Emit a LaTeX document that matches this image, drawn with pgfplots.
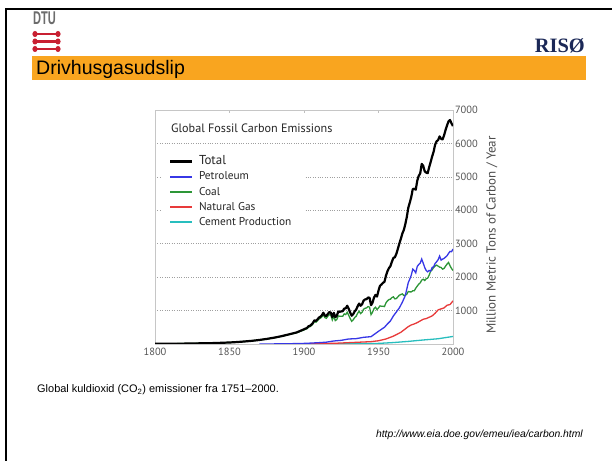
\documentclass[border=0pt]{standalone}
\usepackage{fontspec}
\setmainfont{Liberation Sans}
\newfontfamily\chartfont{PT Sans}
\newfontfamily\rsfont{Liberation Serif}
\usepackage{pgfplots}
\pgfplotsset{compat=1.18}
\definecolor{orangebar}{RGB}{249,165,31}
\definecolor{dtured}{RGB}{200,32,50}
\definecolor{risonavy}{RGB}{27,40,87}
\definecolor{cblue}{RGB}{55,55,230}
\definecolor{cgreen}{RGB}{45,150,55}
\definecolor{gasred}{RGB}{232,58,58}
\definecolor{ccyan}{RGB}{40,190,190}
\definecolor{tickgray}{RGB}{85,85,85}

\pgfplotstableread{
year val
1800 8
1810 9
1820 12
1830 20
1840 28
1850 45
1855 58
1860 75
1865 95
1870 120
1875 152
1880 190
1885 235
1890 290
1895 345
1900 440
1901 460
1902 480
1903 530
1904 545
1905 580
1906 630
1907 710
1908 690
1909 735
1910 790
1911 815
1912 860
1913 935
1914 850
1915 838
1916 901
1917 955
1918 936
1919 806
1920 932
1921 803
1922 845
1923 970
1924 963
1925 975
1926 983
1927 1062
1928 1065
1929 1145
1930 1053
1931 940
1932 847
1933 893
1934 973
1935 1027
1936 1130
1937 1209
1938 1142
1939 1192
1940 1299
1941 1334
1942 1342
1943 1391
1944 1383
1945 1160
1946 1238
1947 1392
1948 1469
1949 1419
1950 1600
1951 1740
1952 1780
1953 1830
1954 1860
1955 2043
1956 2177
1957 2270
1958 2330
1959 2462
1960 2577
1961 2594
1962 2700
1963 2848
1964 3008
1965 3145
1966 3305
1967 3411
1968 3588
1969 3800
1970 4076
1971 4231
1972 4399
1973 4635
1974 4644
1975 4615
1976 4883
1977 5029
1978 5105
1979 5387
1980 5332
1981 5168
1982 5127
1983 5110
1984 5290
1985 5444
1986 5610
1987 5753
1988 5964
1989 6065
1990 6100
1991 6210
1992 6140
1993 6120
1994 6240
1995 6400
1996 6540
1997 6660
1998 6700
1999 6600
2000 6520
}\totaldata

\pgfplotstableread{
year val
1870 0
1880 3
1890 8
1900 18
1905 28
1910 40
1915 55
1920 90
1925 110
1930 150
1935 160
1940 200
1945 220
1950 380
1952 440
1954 500
1956 600
1958 690
1960 840
1962 960
1964 1080
1966 1250
1968 1450
1970 1840
1971 1940
1972 2060
1973 2240
1974 2200
1975 2130
1976 2320
1977 2380
1978 2420
1979 2540
1980 2420
1981 2290
1982 2200
1983 2160
1984 2200
1985 2180
1986 2290
1987 2310
1988 2410
1989 2460
1990 2520
1991 2630
1992 2510
1993 2540
1994 2560
1995 2600
1996 2640
1997 2710
1998 2770
1999 2760
2000 2840
}\petroldata

\pgfplotstableread{
year val
1800 8
1810 9
1820 12
1830 20
1840 28
1850 45
1855 58
1860 75
1865 95
1870 120
1875 150
1880 187
1885 230
1890 282
1895 335
1900 420
1901 440
1902 458
1903 505
1904 518
1905 550
1906 598
1907 675
1908 652
1909 695
1910 745
1911 770
1912 812
1913 875
1914 790
1915 770
1916 830
1917 880
1918 860
1919 720
1920 830
1921 700
1922 730
1923 840
1924 830
1925 830
1926 830
1927 900
1928 880
1929 950
1930 860
1931 760
1932 680
1933 720
1934 790
1935 830
1936 920
1937 980
1938 910
1939 950
1940 1040
1941 1070
1942 1080
1943 1120
1944 1100
1945 880
1946 950
1947 1060
1948 1100
1949 1030
1950 1080
1951 1140
1952 1130
1953 1130
1954 1120
1955 1230
1956 1290
1957 1330
1958 1340
1959 1390
1960 1410
1961 1350
1962 1360
1963 1410
1964 1460
1965 1480
1966 1500
1967 1450
1968 1460
1969 1490
1970 1570
1971 1560
1972 1560
1973 1590
1974 1590
1975 1670
1976 1730
1977 1790
1978 1830
1979 1910
1980 1940
1981 1900
1982 1950
1983 1970
1984 2060
1985 2180
1986 2220
1987 2290
1988 2330
1989 2360
1990 2330
1991 2300
1992 2290
1993 2240
1994 2260
1995 2330
1996 2390
1997 2440
1998 2340
1999 2260
2000 2200
}\coaldata

\pgfplotstableread{
year val
1880 0
1890 2
1900 5
1910 12
1920 20
1930 40
1940 60
1945 70
1950 97
1955 150
1960 235
1965 350
1970 520
1972 570
1974 600
1976 640
1978 690
1980 740
1982 760
1984 800
1986 840
1988 920
1990 1020
1992 1050
1994 1080
1996 1160
1998 1180
2000 1290
}\gasdata

\pgfplotstableread{
year val
1900 0
1920 5
1930 10
1940 15
1950 18
1960 43
1970 78
1980 120
1990 157
2000 226
}\cementdata

\begin{document}
\begin{tikzpicture}
\useasboundingbox (0,0) rectangle (612bp,461bp);
\fill[white] (0,0) rectangle (612bp,461bp);
% slide frame
\draw[line width=2.2bp] (6bp,0) -- (6bp,452bp) -- (612bp,452bp);
% DTU logo
\node[anchor=base west, inner sep=0, text=gray!85!black, xscale=0.6, font=\bfseries\fontsize{18.5}{19}\selectfont] at (33bp,436bp) {DTU};
\foreach \yy in {427,419.5,412}{
  \draw[dtured, line width=2.8bp] (36bp,\yy bp) -- (57bp,\yy bp);
  \fill[dtured] (35bp,\yy bp) ellipse (2.6bp and 3bp);
  \fill[dtured] (58bp,\yy bp) ellipse (2.6bp and 3bp);
}
% RISO
\node[anchor=base east, inner sep=0, text=risonavy, font=\rsfont\bfseries\fontsize{20.5}{21}\selectfont] at (585bp,408bp) {RISØ};
% orange title bar
\fill[orangebar] (32bp,381bp) rectangle (586bp,405bp);
\node[anchor=base west, inner sep=0, font=\fontsize{19.6}{20}\selectfont] at (36bp,386bp) {Drivhusgasudslip};

\begin{axis}[
  at={(155bp,117bp)}, anchor=south west,
  scale only axis, width=298bp, height=234bp,
  xmin=1800, xmax=2000, ymin=0, ymax=7000,
  axis line style={draw=gray!45, line width=0.6bp},
  xtick={1800,1850,...,2000},
  xtick pos=upper, xticklabel pos=lower,
  ytick={1000,2000,...,7000},
  ytick pos=right, yticklabel pos=right,
  ytick style={draw=none},
  xtick style={draw=gray!50, line width=0.6bp},
  major tick length=3bp,
  ymajorgrids,
  grid style={dotted, gray!75, line width=0.7bp},
  ticklabel style={font=\chartfont\fontsize{10.5}{12}\selectfont, text=tickgray},
  xticklabel style={yshift=-0.5bp},
  yticklabel style={xshift=-1.5bp},
  /pgf/number format/assume math mode=true,
  /pgf/number format/1000 sep={},
  legend cell align=left,
  legend style={at={(0.047,0.812)}, anchor=north west, draw=none, fill=none,
    inner sep=0pt, row sep=0pt, column sep=4bp,
    nodes={inner sep=1.6bp, text height=9bp, text depth=3bp,
      font=\chartfont\fontsize{11.4}{13}\selectfont, text=black!85}},
  legend image code/.code={\draw[#1] (0bp,0.3bp) -- (22bp,0.3bp);},
]
\fill[white] (axis cs:1805,3350) rectangle (axis cs:1900,5850);
\addplot[ccyan, line width=1.3bp, forget plot] table[x=year,y=val] {\cementdata};
\addplot[gasred, line width=1.3bp, forget plot] table[x=year,y=val] {\gasdata};
\addplot[cgreen, line width=1.3bp, forget plot] table[x=year,y=val] {\coaldata};
\addplot[cblue, line width=1.3bp, forget plot] table[x=year,y=val] {\petroldata};
\addplot[black, line width=2.2bp, line join=round, forget plot] table[x=year,y=val] {\totaldata};
\addlegendimage{black, line width=2.2bp}
\addlegendentry{\fontsize{13}{13}\selectfont Total}
\addlegendimage{cblue, line width=1.7bp}
\addlegendentry{Petroleum}
\addlegendimage{cgreen, line width=1.7bp}
\addlegendentry{Coal}
\addlegendimage{draw=gasred, line width=1.7bp}
\addlegendentry{Natural Gas}
\addlegendimage{ccyan, line width=1.7bp}
\addlegendentry{Cement Production}
\end{axis}

\node[anchor=base west, inner sep=0, text=black!85, font=\chartfont\fontsize{12.2}{14}\selectfont] at (171bp,328bp) {Global Fossil Carbon Emissions};
\node[rotate=90, inner sep=0, text=black!70, font=\chartfont\fontsize{13}{15}\selectfont] at (492bp,226bp) {Million Metric Tons of Carbon / Year};

% caption and source
\node[anchor=base west, inner sep=0, font=\fontsize{11}{13}\selectfont] at (37bp,68bp) {Global kuldioxid (CO\textsubscript{2}) emissioner fra 1751–2000.};
\node[anchor=base east, inner sep=0, font=\itshape\fontsize{10.4}{12}\selectfont] at (583bp,24bp) {http://www.eia.doe.gov/emeu/iea/carbon.html};
\end{tikzpicture}
\end{document}
